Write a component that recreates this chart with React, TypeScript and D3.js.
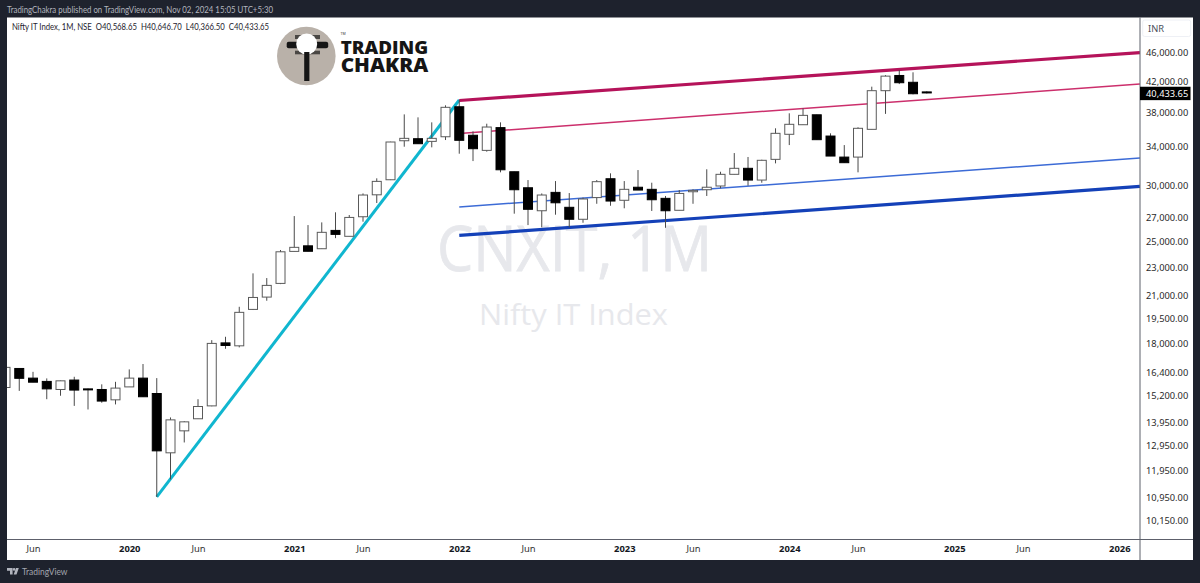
import { useEffect, useRef } from 'react';
import * as d3 from 'd3';

// monthly candles, Apr 2019 to Nov 2024
const opens = [15620, 16610, 16100, 15930, 15520, 16000, 15550, 15520, 15010, 15650, 16100, 15320, 12650, 13580, 14120, 14720, 18040, 17870, 20100, 20915, 21860, 24240, 24680, 24450, 25940, 25450, 27110, 29100, 30550, 34650, 34880, 34580, 35100, 38670, 35270, 33590, 36150, 31350, 29770, 27640, 29330, 27950, 26890, 28840, 30650, 28590, 29820, 29620, 28770, 27680, 29390, 29580, 29940, 31090, 31700, 30520, 32630, 35380, 36490, 37680, 35180, 32870, 32870, 35950, 40730, 42780, 41850, 40568.65];
const highs = [16680, 16630, 16430, 16085, 15970, 16170, 15565, 15780, 15910, 16560, 16850, 16100, 14180, 14010, 15040, 18200, 18400, 20270, 22580, 22240, 24350, 27170, 26390, 26620, 27500, 27260, 29230, 30690, 34540, 37730, 37370, 36770, 38850, 39520, 35720, 36610, 36770, 31350, 30520, 29230, 30420, 29265, 28840, 30520, 31190, 30420, 31520, 30260, 28990, 29550, 29620, 31600, 31350, 33300, 32880, 32590, 36070, 37860, 38470, 37690, 35490, 34170, 36190, 41260, 42830, 43540, 43220, 40646.7];
const lows = [15610, 15450, 15890, 15040, 15210, 14720, 14550, 14870, 14790, 15650, 15150, 10970, 11610, 13080, 14120, 14700, 17700, 17780, 20060, 20670, 21810, 24240, 24240, 24440, 25300, 25450, 26680, 28340, 30520, 33990, 34320, 33920, 34730, 33230, 32450, 33450, 31290, 27380, 26390, 26200, 27290, 26200, 26590, 28270, 28090, 27860, 29550, 27620, 26160, 27680, 28270, 28990, 29720, 31090, 29970, 30260, 32210, 34170, 36490, 34770, 32980, 32280, 31290, 35950, 37790, 41610, 40250, 40366.5];
const closes = [16670, 16090, 15890, 15550, 15960, 15490, 15535, 14950, 15590, 16100, 15160, 12730, 14070, 13980, 14690, 18010, 17890, 19910, 20890, 21720, 24210, 24560, 24250, 25780, 25610, 27050, 29080, 30390, 34510, 34920, 34320, 34920, 38600, 34700, 33770, 36220, 31550, 29580, 27770, 29080, 28360, 26890, 28710, 30360, 28520, 29620, 29550, 28640, 27640, 29230, 29520, 29820, 31090, 31700, 30520, 32530, 35490, 36540, 37610, 34770, 32980, 32280, 36070, 40730, 42690, 41790, 40330, 40433.65];

const priceTicks = [46000, 42000, 38000, 34000, 30000, 27000, 25000, 23000, 21000, 19500, 18000, 16400, 15200, 13950, 12950, 11950, 10950, 10150];
const lastPrice = 40433.65;

// month index from Apr 2019
const timeTicks = [2, 9, 14, 21, 26, 33, 38, 45, 50, 57, 62, 69, 74, 81];
const timeLabels = ['Jun', '2020', 'Jun', '2021', 'Jun', '2022', 'Jun', '2023', 'Jun', '2024', 'Jun', '2025', 'Jun', '2026'];

const riseLine: [number, number][] = [[11, 10970], [33, 39520]];
const upperThick: [number, number][] = [[33, 39460], [82.5, 46070]];
const upperThin: [number, number][] = [[33, 35480], [82.5, 41610]];
const lowerThin: [number, number][] = [[33, 27980], [82.5, 32770]];
const lowerThick: [number, number][] = [[33, 25520], [82.5, 29900]];

const uiFont = '"Noto Sans", sans-serif';
const headFont = 'Lato, sans-serif';

export default function App() {
  const svgRef = useRef<SVGSVGElement>(null);

  useEffect(() => {
    if (!svgRef.current) return;

    const svg = d3.select(svgRef.current);
    svg.selectAll('*').remove();

    const panel = { left: 7, right: 1193, top: 17.5, bottom: 560 };
    const plotRight = 1140;
    const axisY = 539.5;

    const xScale = d3.scaleLinear().domain([0, 82.5]).range([5.5, 1139.9]);
    const yScale = d3.scaleLog().domain([10150, 46000]).range([521, 53]);

    svg.append('rect').attr('width', 1200).attr('height', 583).attr('fill', '#1e222d');
    svg.append('rect')
      .attr('x', panel.left).attr('y', panel.top)
      .attr('width', panel.right - panel.left).attr('height', panel.bottom - panel.top)
      .attr('fill', '#ffffff');

    svg.append('text')
      .attr('x', 7).attr('y', 12.5)
      .attr('font-family', headFont).attr('font-size', 10).attr('fill', '#b2b5be')
      .attr('textLength', 266).attr('lengthAdjust', 'spacingAndGlyphs')
      .text('TradingChakra published on TradingView.com, Nov 02, 2024 15:05 UTC+5:30');

    const clip = svg.append('defs').append('clipPath').attr('id', 'plot');
    clip.append('rect')
      .attr('x', panel.left).attr('y', panel.top)
      .attr('width', plotRight - panel.left).attr('height', axisY - panel.top);

    // watermark
    svg.append('text')
      .attr('x', 437).attr('y', 271)
      .attr('font-family', '"Open Sans", sans-serif').attr('font-size', 63)
      .attr('textLength', 275).attr('lengthAdjust', 'spacingAndGlyphs')
      .attr('fill', '#e7e8ec').attr('stroke', '#e7e8ec').attr('stroke-width', 0.8)
      .text('CNXIT, 1M');
    svg.append('text')
      .attr('x', 479).attr('y', 325)
      .attr('font-family', '"Open Sans", sans-serif').attr('font-size', 30)
      .attr('textLength', 189).attr('lengthAdjust', 'spacingAndGlyphs')
      .attr('fill', '#e7e8ec')
      .text('Nifty IT Index');

    svg.append('text')
      .attr('x', 12).attr('y', 30)
      .attr('font-family', headFont).attr('font-size', 10).attr('fill', '#1e222d')
      .attr('textLength', 257).attr('lengthAdjust', 'spacingAndGlyphs')
      .style('white-space', 'pre')
      .text('Nifty IT Index, 1M, NSE  O40,568.65  H40,646.70  L40,366.50  C40,433.65');

    // logo
    const logo = svg.append('g');
    logo.append('circle').attr('cx', 306.3).attr('cy', 56).attr('r', 29.3).attr('fill', '#b9b1a9');
    logo.append('rect').attr('x', 295).attr('y', 35).attr('width', 25).attr('height', 4).attr('fill', '#4a4744');
    logo.append('rect').attr('x', 295).attr('y', 50.7).attr('width', 25).attr('height', 3.6).attr('fill', '#4a4744');
    logo.append('rect').attr('x', 286.7).attr('y', 41.7).attr('width', 41.5).attr('height', 6.6).attr('rx', 2).attr('fill', '#151515');
    logo.append('circle').attr('cx', 306.7).attr('cy', 44).attr('r', 10.5).attr('fill', '#ffffff');
    logo.append('rect').attr('x', 304.2).attr('y', 52).attr('width', 5.2).attr('height', 29).attr('fill', '#151515');
    logo.append('text').attr('x', 340.5).attr('y', 35).attr('font-family', uiFont).attr('font-size', 3.5).attr('fill', '#333').text('TM');
    logo.append('text')
      .attr('x', 340.7).attr('y', 53.5)
      .attr('font-family', '"Open Sans", sans-serif').attr('font-weight', 800).attr('font-size', 17.5)
      .attr('textLength', 87.5).attr('lengthAdjust', 'spacingAndGlyphs').attr('fill', '#151515')
      .text('TRADING');
    logo.append('text')
      .attr('x', 340.7).attr('y', 71.8)
      .attr('font-family', '"Open Sans", sans-serif').attr('font-weight', 800).attr('font-size', 19.5)
      .attr('textLength', 87.5).attr('lengthAdjust', 'spacingAndGlyphs').attr('fill', '#151515')
      .text('CHAKRA');

    const plot = svg.append('g').attr('clip-path', 'url(#plot)');

    const line = d3.line<[number, number]>()
      .x(d => xScale(d[0]))
      .y(d => yScale(d[1]));

    const drawings: { pts: [number, number][]; color: string; w: number }[] = [
      { pts: riseLine, color: '#10b6cf', w: 3 },
      { pts: upperThick, color: '#b5135a', w: 3.2 },
      { pts: upperThin, color: '#cc2f6c', w: 1.5 },
      { pts: lowerThin, color: '#3c6bd6', w: 1.5 },
      { pts: lowerThick, color: '#1441b8', w: 3.2 },
    ];
    drawings.forEach(d => {
      plot.append('path')
        .attr('d', line(d.pts))
        .attr('fill', 'none')
        .attr('stroke', d.color)
        .attr('stroke-width', d.w);
    });

    const bodyWidth = 9;
    const candles = plot.selectAll('g.candle')
      .data(opens.map((o, i) => ({ i, o, h: highs[i], l: lows[i], c: closes[i] })))
      .join('g')
      .attr('class', 'candle');

    candles.append('line')
      .attr('x1', d => xScale(d.i)).attr('x2', d => xScale(d.i))
      .attr('y1', d => yScale(d.h)).attr('y2', d => yScale(d.l))
      .attr('stroke', '#4a4a4a').attr('stroke-width', 1);

    candles.append('rect')
      .attr('x', d => xScale(d.i) - bodyWidth / 2)
      .attr('y', d => yScale(Math.max(d.o, d.c)))
      .attr('width', bodyWidth)
      .attr('height', d => Math.max(1, Math.abs(yScale(d.o) - yScale(d.c))))
      .attr('fill', d => (d.c >= d.o ? '#ffffff' : '#000000'))
      .attr('stroke', d => (d.c >= d.o ? '#5a5a5a' : '#000000'))
      .attr('stroke-width', 1);

    // price axis
    const priceAxis = d3.axisRight(yScale)
      .tickValues(priceTicks)
      .tickSize(0)
      .tickPadding(6)
      .tickFormat(d => d3.format(',.2f')(d as number));

    const yAxisG = svg.append('g')
      .attr('transform', `translate(${plotRight},0)`)
      .call(priceAxis);
    yAxisG.select('.domain').remove();
    yAxisG.selectAll('text')
      .attr('font-family', uiFont).attr('font-size', 9.3).attr('fill', '#2a2a2a');

    // time axis
    const timeAxis = d3.axisBottom(xScale)
      .tickValues(timeTicks)
      .tickSize(0)
      .tickPadding(6)
      .tickFormat((_, i) => timeLabels[i]);

    const xAxisG = svg.append('g')
      .attr('transform', `translate(0,${axisY})`)
      .call(timeAxis);
    xAxisG.select('.domain').remove();
    xAxisG.selectAll('text')
      .attr('font-family', uiFont)
      .attr('font-size', 9.4)
      .attr('font-weight', (_, i) => (timeLabels[i] === 'Jun' ? 400 : 700))
      .attr('fill', (_, i) => (timeLabels[i] === 'Jun' ? '#333333' : '#131722'));

    svg.append('line')
      .attr('x1', panel.left).attr('x2', panel.right)
      .attr('y1', axisY).attr('y2', axisY)
      .attr('stroke', '#5d606b').attr('stroke-width', 1);
    svg.append('line')
      .attr('x1', plotRight).attr('x2', plotRight)
      .attr('y1', panel.top).attr('y2', panel.bottom)
      .attr('stroke', '#5d606b').attr('stroke-width', 1);

    // currency box
    svg.append('rect')
      .attr('x', 1142.7).attr('y', 20)
      .attr('width', 48).attr('height', 16.5).attr('rx', 2)
      .attr('fill', '#ffffff').attr('stroke', '#eef0f5');
    svg.append('text')
      .attr('x', 1148).attr('y', 32)
      .attr('font-family', uiFont).attr('font-size', 9.3).attr('fill', '#4a4e5a')
      .text('INR');

    // last price label
    svg.append('rect')
      .attr('x', plotRight).attr('y', yScale(lastPrice) - 6.2)
      .attr('width', 50.5).attr('height', 13.4)
      .attr('fill', '#000000');
    svg.append('text')
      .attr('x', plotRight + 6).attr('y', yScale(lastPrice) + 3.8)
      .attr('font-family', uiFont).attr('font-size', 9.3).attr('fill', '#ffffff')
      .text(d3.format(',.2f')(lastPrice));

    // TradingView mark in the footer
    svg.append('path')
      .attr('d', 'M7 568h5.6v6.4h-2.6v-3.7H7z M16 568h2.8l-2.3 6.4h-2.8z')
      .attr('fill', '#b2b5be');
    svg.append('circle').attr('cx', 14.1).attr('cy', 569.4).attr('r', 1.3).attr('fill', '#b2b5be');
    svg.append('text')
      .attr('x', 22).attr('y', 575)
      .attr('font-family', headFont).attr('font-size', 10).attr('fill', '#a3a6af')
      .attr('textLength', 45.5).attr('lengthAdjust', 'spacingAndGlyphs')
      .text('TradingView');
  }, []);

  return (
    <svg
      ref={svgRef}
      width={1200}
      height={583}
      style={{ position: 'absolute', left: 0, top: 0, display: 'block' }}
    ></svg>
  );
}
